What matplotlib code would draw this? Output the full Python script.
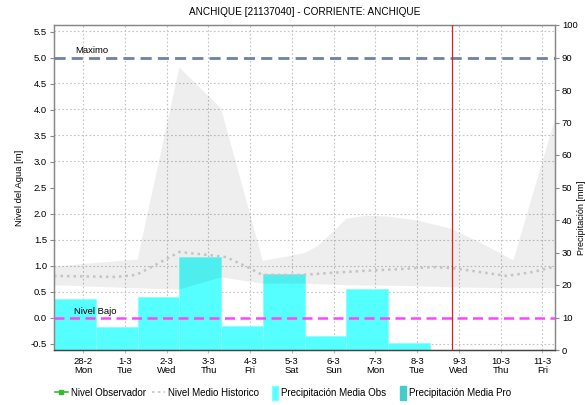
import matplotlib
matplotlib.use("Agg")
import matplotlib.pyplot as plt
from matplotlib.lines import Line2D
from matplotlib.patches import Patch, Rectangle
from matplotlib.legend_handler import HandlerPatch
import numpy as np

plt.rcParams['font.family'] = ['Liberation Sans', 'DejaVu Sans']

# ---- data ----
day_labels = ['28-2\nMon', '1-3\nTue', '2-3\nWed', '3-3\nThu', '4-3\nFri', '5-3\nSat',
              '6-3\nSun', '7-3\nMon', '8-3\nTue', '9-3\nWed', '10-3\nThu', '11-3\nFri']
day_pos = list(range(12))

# daily precipitation (mm), bar k covers 07:00 of previous day to 07:00 of day k
precip_start = [-0.70, 0.30, 1.30, 2.30, 3.30, 4.30, 5.30, 6.30, 7.30]
precip_obs = [15.7, 7.2, 16.2, 28.7, 7.5, 23.4, 4.4, 18.9, 2.15]

# historic band (m)
band_x = [-0.70, 0.30, 1.29, 2.29, 3.29, 4.29, 5.0, 5.29, 5.6, 6.0, 6.29, 6.79, 7.29,
          7.99, 8.79, 9.5, 10.29, 11.30]
band_hi = [0.99, 1.06, 1.125, 4.82, 4.03, 1.10, 1.20, 1.25, 1.38, 1.68, 1.91, 1.97, 1.95,
           1.875, 1.72, 1.45, 1.11, 3.86]
band_lo = [0.63, 0.60, 0.57, 0.55, 0.78, 0.66, 0.66, 0.66, 0.65, 0.64, 0.63, 0.62, 0.62,
           0.61, 0.59, 0.58, 0.57, 0.57]

# historic mean level (m)
mean_x = [-0.70, 0.79, 1.27, 1.82, 2.30, 3.02, 3.43, 3.98, 4.29, 5.25, 5.97, 6.79, 7.58,
          8.37, 8.85, 9.50, 10.14, 10.77, 11.30]
mean_v = [0.80, 0.78, 0.82, 1.05, 1.26, 1.20, 1.16, 0.95, 0.82, 0.82, 0.86, 0.90, 0.93,
          0.97, 0.95, 0.875, 0.80, 0.875, 0.98]

nivel_maximo = 5.0
nivel_bajo = 0.0
now_x = 8.84

left_ticks = [-0.5, 0.0, 0.5, 1.0, 1.5, 2.0, 2.5, 3.0, 3.5, 4.0, 4.5, 5.0, 5.5]
right_ticks = [0, 10, 20, 30, 40, 50, 60, 70, 80, 90, 100]

# ---- figure ----
fig = plt.figure(figsize=(5.85, 4.05), dpi=100)
rect = [54 / 585, 55 / 405, 501 / 585, 325 / 405]
ax2 = fig.add_axes(rect)            # precipitation (bottom layer)
ax = ax2.twinx()                    # level (top layer)
ax.yaxis.tick_left()
ax.yaxis.set_label_position('left')
ax2.yaxis.tick_right()
ax2.yaxis.set_label_position('right')
ax.set_zorder(2)
ax2.set_zorder(1)
ax.patch.set_visible(False)

xlim = (-0.70, 11.30)
ax2.set_xlim(*xlim)
ax.set_ylim(-0.625, 5.625)
ax2.set_ylim(0, 100)

# bars
ax2.bar(precip_start, precip_obs, width=1.0, align='edge', color='#55FFFF',
        edgecolor='#7FFFFF', linewidth=0.5, zorder=2)

# x ticks / grid on bottom layer
ax2.set_xticks(day_pos)
ax2.set_xticklabels(day_labels, linespacing=1.05)
ax.tick_params(axis='x', which='both', bottom=False, top=False,
               labelbottom=False, labeltop=False)
ax2.grid(axis='x', color='#C4C4C4', linestyle=(0, (1.5, 2)), linewidth=0.8, zorder=0)
fig.canvas.draw()
minor_y = [ax2.transData.inverted().transform(ax.transData.transform((0, t)))[1]
           for t in left_ticks]
ax2.set_yticks(minor_y, minor=True)
ax2.tick_params(axis='y', which='minor', length=0)
ax2.grid(axis='y', which='minor', color='#C4C4C4', linestyle=(0, (1.5, 2)), linewidth=0.8, zorder=0)
ax2.set_axisbelow(True)

# band
ax.fill_between(band_x, band_lo, band_hi, color='black', alpha=0.068, linewidth=0, zorder=1)
# mean line
ax.plot(mean_x, mean_v, color='#C4C4C4', linestyle=(0, (1, 1.6)), linewidth=1.8, zorder=2)
# thresholds
ax.axhline(nivel_maximo, color='#7080A8', linestyle=(0, (4, 2.2)), linewidth=2.0, zorder=3)
ax.axhline(nivel_bajo, color='#FF44FF', linestyle=(0, (4, 2.2)), linewidth=1.8, zorder=3)
ax.text(0.2, nivel_maximo + 0.04, 'Maximo', fontsize=6.8, ha='center', va='bottom', zorder=4)
ax.text(0.3, nivel_bajo + 0.03, 'Nivel Bajo', fontsize=6.8, ha='center', va='bottom', zorder=4)
ax.axvline(now_x, color='#E02020', linewidth=0.9, zorder=3)

# ticks
ax.set_yticks(left_ticks)
ax.set_yticklabels([f'{t:.1f}' for t in left_ticks])
ax2.set_yticks(right_ticks)
ax.tick_params(axis='y', labelsize=6.8, length=3, width=0.8, color='#888888', pad=2)
ax2.tick_params(axis='y', which='major', labelsize=6.8, length=3, width=0.8, color='#888888', pad=2)
ax2.tick_params(axis='x', labelsize=6.8, length=2, color='#BBBBBB', pad=3)
ax2.set_xlim(*xlim)

for a in (ax, ax2):
    for s in ('top', 'left', 'right'):
        a.spines[s].set_color('#888888')
        a.spines[s].set_linewidth(0.9)
    a.spines['bottom'].set_color('#444444')
    a.spines['bottom'].set_linestyle((0, (1, 1)))
    a.spines['bottom'].set_linewidth(0.9)

ax.set_ylabel('Nivel del Agua [m]', fontsize=6.8, labelpad=5)
fig.text(577 / 585, 187 / 405, 'Precipitación [mm]', rotation=90, fontsize=6.5,
         ha='left', va='center')

ax.set_title('ANCHIQUE [21137040] - CORRIENTE: ANCHIQUE', fontsize=7.2, pad=7)


def narrow_patch(legend, orig_handle, xdescent, ydescent, width, height, fontsize):
    w = 4.5
    return Rectangle((-xdescent + width - w, -ydescent - 2.0), w, height + 4.0)


handles = [
    Line2D([0], [0], color='#33BB33', linewidth=1.2, marker='s', markersize=2.5),
    Line2D([0], [0], color='#C4C4C4', linestyle=(0, (1.5, 2)), linewidth=1.2),
    Patch(facecolor='#55FFFF', edgecolor='#7FFFFF'),
    Patch(facecolor='#44CCCC', edgecolor='#44CCCC'),
]
labels = ['Nivel Observador', 'Nivel Medio Historico', 'Precipitación Media Obs',
          'Precipitación Media Pro']
fig.legend(handles, labels, loc='center', bbox_to_anchor=(283 / 585, 1 - 393 / 405),
           ncol=4, frameon=False, fontsize=7.0, handlelength=1.3, handletextpad=0.3,
           columnspacing=0.7, handleheight=1.0,
           handler_map={Patch: HandlerPatch(patch_func=narrow_patch)})

fig.savefig('out.png', dpi=100)
